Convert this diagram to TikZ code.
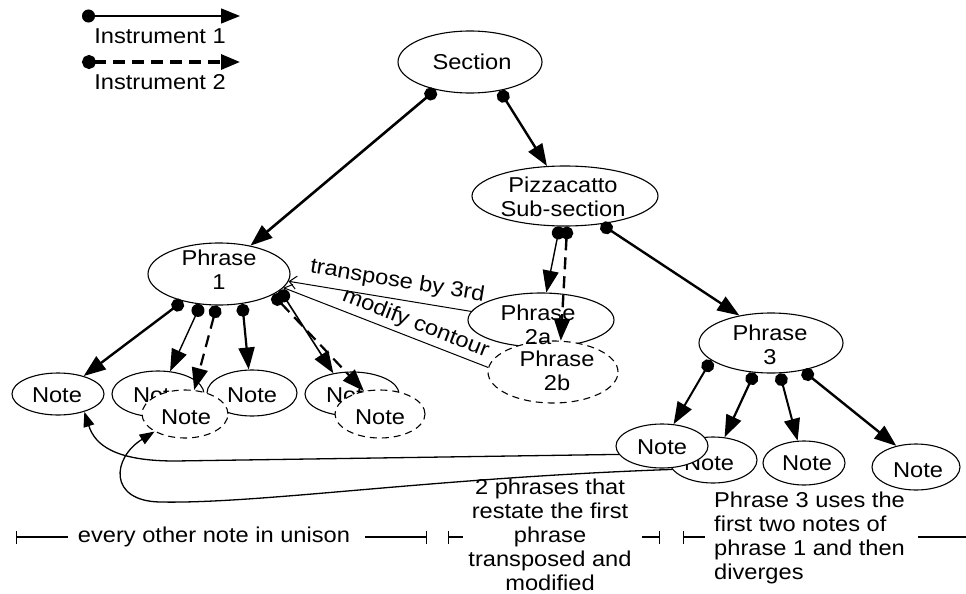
\documentclass[tikz,border=0pt]{standalone}
\usepackage{fontspec}
\setmainfont{Liberation Sans}[FakeStretch=1.1]
\usetikzlibrary{shapes.geometric,arrows.meta}
\begin{document}
\begin{tikzpicture}[x=1pt,y=-1pt,
  every node/.style={font=\fontsize{21.5}{24}\selectfont},
  ell/.style={ellipse, draw, line width=1.1pt, fill=white, inner sep=0pt},
  dell/.style={ell, dash pattern=on 7pt off 5pt},
  txt/.style={inner sep=0pt, align=center},
  solidE/.style={line width=#1, {Circle[length=13pt]}-{Triangle[length=22pt,width=16pt]}},
  solidE/.default=1.8pt,
  dashE/.style={solidE=#1, dash pattern=on 12pt off 7pt},
  dashE/.default=2pt,
  xf/.style={line width=1pt, -{Straight Barb[length=7pt,width=13pt]}},
  back/.style={line width=1.3pt, -{Triangle[length=15pt,width=11pt]}},
  brk/.style={line width=1.2pt}
]
\useasboundingbox (0,0) rectangle (966,594);

% legend
\coordinate (la1) at (82,16);
\coordinate (la2) at (240,16);
\coordinate (lb1) at (82,62);
\coordinate (lb2) at (240,62);
\draw[line width=1.4pt, {Circle[length=13pt]}-{Triangle[length=19pt,width=15pt]}] (la1) -- (la2);
\draw[line width=3.2pt, dash pattern=on 12pt off 7pt, {Circle[length=14pt]}-{Triangle[length=19pt,width=15pt]}] (lb1) -- (lb2);
\node[txt] (li1) at (160,36) {Instrument 1};
\node[txt] (li2) at (160,82) {Instrument 2};

% main nodes
\node[ell, minimum width=144pt, minimum height=62pt] (sec) at (470,62) {};
\node[txt] (tsec) at (472,62) {Section};
\node[ell, minimum width=186pt, minimum height=60pt] (piz) at (565,196) {};
\node[txt] (tpiz) at (563,197) {Pizzacatto\\Sub-section};
\node[ell, minimum width=142pt, minimum height=62pt] (ph1) at (219,274) {};
\node[txt] (tph1) at (219,270) {Phrase\\1};
\node[ell, minimum width=146pt, minimum height=54pt] (ph2a) at (541,320) {};
\node[dell, minimum width=130pt, minimum height=62pt] (ph2b) at (553,372) {};
\node[txt] (tph2a) at (538,325) {Phrase\\2a};
\node[txt] (tph2b) at (557,371) {Phrase\\2b};
\node[ell, minimum width=144pt, minimum height=60pt] (ph3) at (771,343) {};
\node[txt] (tph3) at (770,345) {Phrase\\3};

% notes under phrase 1
\node[ell, minimum width=92pt, minimum height=42pt] (nA) at (58,394) {};
\node[txt] (tnA) at (57,395) {Note};
\node[ell, minimum width=92pt, minimum height=46pt] (nB) at (158,394) {};
\node[txt] (tnB) at (158,395) {Note};
\node[ell, minimum width=90pt, minimum height=46pt] (nC) at (252,393) {};
\node[txt] (tnC) at (252,395) {Note};
\node[dell, minimum width=86pt, minimum height=48pt] (nBd) at (185,414) {};
\node[txt] (tnBd) at (186,417) {Note};
\node[ell, minimum width=94pt, minimum height=44pt] (nD) at (352,394) {};
\node[txt] (tnD) at (351,395) {Note};
\node[dell, minimum width=90pt, minimum height=48pt] (nDd) at (380,414) {};
\node[txt] (tnDd) at (380,417) {Note};

% notes under phrase 3
\node[ell, minimum width=88pt, minimum height=46pt] (nF) at (713,460) {};
\node[txt] (tnF) at (709,463) {Note};
\node[ell, minimum width=92pt, minimum height=44pt] (nE) at (662,446) {};
\node[txt] (tnE) at (662,447) {Note};
\node[ell, minimum width=82pt, minimum height=44pt] (nG) at (804,463) {};
\node[txt] (tnG) at (807,463) {Note};
\node[ell, minimum width=88pt, minimum height=46pt] (nH) at (916,467) {};
\node[txt] (tnH) at (918,470) {Note};

% edges
\draw[solidE=2.6pt] (sec.219) -- (ph1.42);
\draw[solidE=2.4pt] (sec.316) -- (piz.121);
\draw[solidE=1.4pt] (piz.260) -- (ph2a.79);
\draw[dashE=2.4pt] (piz.274) -- (ph2b.76);
\draw[solidE=2.4pt] (piz.322) -- (ph3.139);

\draw[solidE=2.4pt] (ph1.217) -- (nA.35);
\draw[solidE=1.4pt] (ph1.239) -- (nB.62);
\draw[dashE=2.2pt] (ph1.266) -- (nBd.69);
\draw[solidE=2.2pt] (ph1.308) -- (nC.98);
\draw[solidE=1.6pt] (ph1.345) -- (nD.132);
\draw[dashE=2.2pt] (ph1.339) -- (nDd.125);

\draw[solidE=2pt] (ph3.196) -- (nE.62);
\draw[solidE=2.2pt] (ph3.241) -- (nF.63);
\draw[solidE=2pt] (ph3.286) -- (nG.106);
\draw[solidE=2.4pt] (ph3.319) -- (nH.133);

% transformations
\draw[xf] (ph2a.173) -- node[inner sep=0pt, pos=0.42, sloped, above=7pt] {transpose by 3rd} (ph1.354);
\draw[xf] (ph2b.176) -- node[inner sep=0pt, pos=0.38, sloped, above=4pt] {modify contour} (ph1.348);

% back references
\draw[back] (nE.191) -- (175,461) .. controls (115,461) and (95,445) .. (nA.326);
\draw[back] (nF.193) .. controls (430,478) and (260,504) .. (160,502) .. controls (108,501) and (112,458) .. (nBd.210);

% bottom brackets
\coordinate (k1) at (16,537);
\coordinate (k2) at (68,537);
\coordinate (k3) at (365,537);
\coordinate (k4) at (427,537);
\coordinate (k5) at (448,537);
\coordinate (k6) at (463,537);
\coordinate (k7) at (642,537);
\coordinate (k8) at (660,537);
\coordinate (k9) at (683,537);
\coordinate (k10) at (705,537);
\coordinate (k11) at (918,537);
\coordinate (k12) at (966,537);
\draw[brk, {Bar[width=13pt]}-] (k1) -- (k2);
\draw[brk, -{Bar[width=13pt]}] (k3) -- (k4);
\draw[brk, {Bar[width=13pt]}-] (k5) -- (k6);
\draw[brk, -{Bar[width=13pt]}] (k7) -- (k8);
\draw[brk, {Bar[width=13pt]}-] (k9) -- (k10);
\draw[brk] (k11) -- (k12);
\node[txt] (bt1) at (214,537) {every other note in unison};
\node[txt] (bt2) at (550,535) {2 phrases that\\restate the first\\phrase\\transposed and\\modified};
\node[txt, align=left, anchor=west] (bt3) at (714,538) {Phrase 3 uses the\\first two notes of\\phrase 1 and then\\diverges};
\end{tikzpicture}
\end{document}
